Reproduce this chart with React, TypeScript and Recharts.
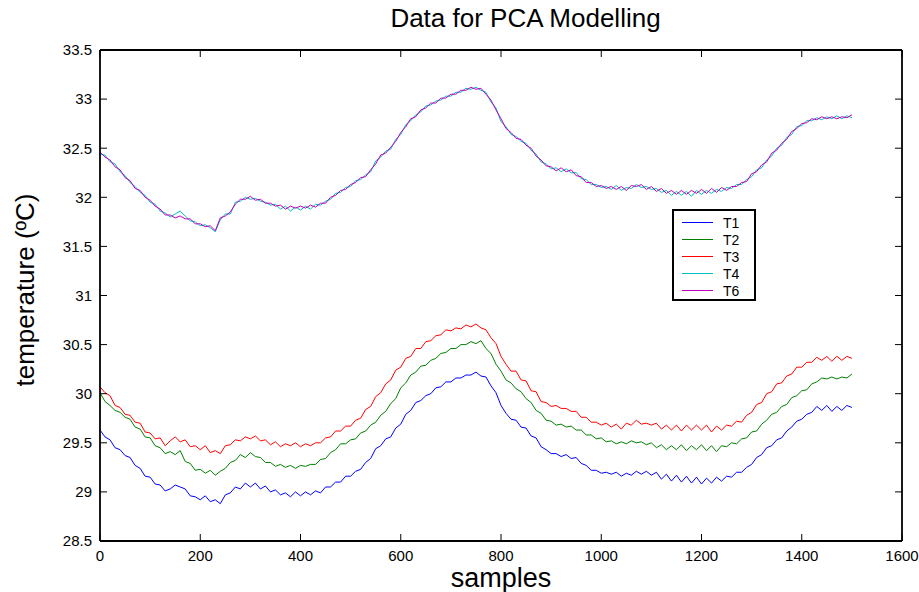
import React from 'react';
import { LineChart, Line, XAxis, YAxis } from 'recharts';

// sample index of every stored point (every 10th sample)
const SAMPLE_STEP = 10;
const SAMPLE_COUNT = 151;

const T1 = [
  29.63, 29.56, 29.53, 29.45, 29.43, 29.37, 29.35, 29.27, 29.24, 29.16,
  29.15, 29.08, 29.07, 29.01, 29.03, 29.07, 29.05, 29.03, 28.96, 28.95,
  28.92, 28.96, 28.90, 28.92, 28.88, 28.97, 28.99, 29.05, 29.03, 29.09,
  29.05, 29.09, 29.03, 29.06, 29.00, 29.02, 28.97, 28.99, 28.95, 29.00,
  28.96, 29.00, 28.97, 29.01, 28.99, 29.05, 29.05, 29.10, 29.10, 29.16,
  29.16, 29.21, 29.23, 29.30, 29.34, 29.44, 29.47, 29.54, 29.56, 29.65,
  29.69, 29.79, 29.83, 29.91, 29.93, 29.98, 30.00, 30.06, 30.07, 30.12,
  30.12, 30.16, 30.16, 30.19, 30.19, 30.22, 30.18, 30.17, 30.08, 30.01,
  29.88, 29.80, 29.74, 29.73, 29.66, 29.65, 29.57, 29.55, 29.46, 29.43,
  29.39, 29.39, 29.36, 29.38, 29.34, 29.35, 29.29, 29.27, 29.22, 29.22,
  29.19, 29.20, 29.18, 29.20, 29.16, 29.19, 29.17, 29.21, 29.18, 29.21,
  29.17, 29.20, 29.13, 29.18, 29.11, 29.17, 29.10, 29.16, 29.09, 29.15,
  29.08, 29.14, 29.09, 29.15, 29.11, 29.16, 29.15, 29.20, 29.20, 29.25,
  29.28, 29.35, 29.38, 29.45, 29.47, 29.53, 29.55, 29.62, 29.66, 29.72,
  29.74, 29.79, 29.81, 29.87, 29.83, 29.88, 29.82, 29.87, 29.83, 29.88,
  29.86,
];

const T2 = [
  30.01, 29.92, 29.88, 29.83, 29.81, 29.76, 29.74, 29.66, 29.64, 29.56,
  29.55, 29.47, 29.45, 29.39, 29.41, 29.38, 29.42, 29.31, 29.29, 29.22,
  29.23, 29.19, 29.22, 29.17, 29.21, 29.24, 29.30, 29.32, 29.38, 29.35,
  29.40, 29.36, 29.35, 29.30, 29.30, 29.26, 29.28, 29.25, 29.27, 29.24,
  29.27, 29.26, 29.28, 29.28, 29.33, 29.34, 29.40, 29.43, 29.49, 29.49,
  29.53, 29.54, 29.60, 29.62, 29.68, 29.71, 29.78, 29.82, 29.90, 29.95,
  30.06, 30.11, 30.19, 30.22, 30.28, 30.29, 30.34, 30.36, 30.41, 30.42,
  30.46, 30.46, 30.50, 30.50, 30.53, 30.51, 30.54, 30.46, 30.41, 30.30,
  30.23, 30.14, 30.11, 30.05, 30.02, 29.95, 29.91, 29.83, 29.80, 29.73,
  29.72, 29.68, 29.69, 29.66, 29.67, 29.63, 29.63, 29.58, 29.58, 29.54,
  29.55, 29.51, 29.52, 29.49, 29.51, 29.49, 29.52, 29.50, 29.51, 29.48,
  29.50, 29.45, 29.48, 29.43, 29.47, 29.43, 29.48, 29.42, 29.47, 29.43,
  29.48, 29.42, 29.47, 29.41, 29.47, 29.46, 29.50, 29.49, 29.54, 29.55,
  29.61, 29.62, 29.69, 29.73, 29.79, 29.81, 29.87, 29.89, 29.96, 29.98,
  30.03, 30.04, 30.10, 30.12, 30.16, 30.15, 30.17, 30.15, 30.17, 30.16,
  30.20,
];

const T3 = [
  30.07, 30.01, 29.98, 29.88, 29.86, 29.79, 29.78, 29.71, 29.70, 29.61,
  29.60, 29.54, 29.55, 29.47, 29.52, 29.56, 29.51, 29.53, 29.46, 29.47,
  29.43, 29.47, 29.40, 29.42, 29.39, 29.47, 29.48, 29.53, 29.52, 29.56,
  29.54, 29.57, 29.52, 29.53, 29.48, 29.51, 29.46, 29.49, 29.47, 29.50,
  29.46, 29.49, 29.47, 29.50, 29.50, 29.55, 29.56, 29.62, 29.62, 29.67,
  29.67, 29.73, 29.75, 29.84, 29.87, 29.97, 30.01, 30.10, 30.14, 30.24,
  30.27, 30.36, 30.38, 30.46, 30.46, 30.53, 30.54, 30.59, 30.60, 30.65,
  30.64, 30.67, 30.66, 30.70, 30.68, 30.71, 30.67, 30.65, 30.57, 30.51,
  30.38, 30.30, 30.23, 30.23, 30.14, 30.13, 30.03, 30.02, 29.92, 29.91,
  29.87, 29.88, 29.85, 29.85, 29.82, 29.82, 29.76, 29.76, 29.71, 29.71,
  29.68, 29.70, 29.66, 29.69, 29.64, 29.70, 29.68, 29.73, 29.69, 29.70,
  29.68, 29.70, 29.64, 29.68, 29.63, 29.68, 29.62, 29.68, 29.63, 29.68,
  29.63, 29.68, 29.61, 29.67, 29.63, 29.68, 29.67, 29.72, 29.71, 29.78,
  29.81, 29.89, 29.91, 30.00, 30.02, 30.10, 30.11, 30.18, 30.20, 30.27,
  30.27, 30.32, 30.32, 30.37, 30.34, 30.38, 30.33, 30.38, 30.34, 30.38,
  30.36,
];

const T4 = [
  32.44, 32.43, 32.36, 32.34, 32.26, 32.22, 32.15, 32.11, 32.05, 32.02,
  31.95, 31.93, 31.86, 31.84, 31.80, 31.83, 31.86, 31.81, 31.76, 31.75,
  31.71, 31.72, 31.69, 31.65, 31.77, 31.83, 31.83, 31.95, 31.96, 32.00,
  31.98, 31.99, 31.96, 31.95, 31.92, 31.93, 31.88, 31.91, 31.86, 31.90,
  31.87, 31.91, 31.88, 31.93, 31.92, 31.96, 31.98, 32.04, 32.05, 32.10,
  32.11, 32.17, 32.18, 32.23, 32.26, 32.37, 32.41, 32.47, 32.49, 32.59,
  32.64, 32.74, 32.78, 32.84, 32.87, 32.93, 32.94, 32.98, 32.99, 33.03,
  33.03, 33.07, 33.07, 33.11, 33.10, 33.12, 33.09, 33.07, 32.97, 32.91,
  32.77, 32.72, 32.64, 32.62, 32.57, 32.55, 32.48, 32.44, 32.36, 32.34,
  32.29, 32.30, 32.26, 32.29, 32.25, 32.25, 32.19, 32.18, 32.13, 32.13,
  32.10, 32.11, 32.08, 32.12, 32.07, 32.10, 32.09, 32.13, 32.10, 32.11,
  32.08, 32.09, 32.05, 32.07, 32.02, 32.06, 32.02, 32.06, 32.01, 32.07,
  32.03, 32.07, 32.04, 32.08, 32.06, 32.10, 32.09, 32.13, 32.13, 32.18,
  32.21, 32.28, 32.30, 32.38, 32.42, 32.50, 32.53, 32.61, 32.64, 32.72,
  32.73, 32.78, 32.78, 32.81, 32.79, 32.82, 32.80, 32.83, 32.80, 32.83,
  32.81,
];

const T6 = [
  32.46, 32.41, 32.38, 32.31, 32.28, 32.20, 32.17, 32.09, 32.07, 32.00,
  31.97, 31.91, 31.88, 31.82, 31.82, 31.79, 31.81, 31.78, 31.78, 31.73,
  31.73, 31.70, 31.71, 31.66, 31.79, 31.81, 31.85, 31.93, 31.98, 31.98,
  32.01, 31.97, 31.98, 31.94, 31.94, 31.91, 31.92, 31.88, 31.91, 31.89,
  31.91, 31.89, 31.92, 31.90, 31.94, 31.94, 32.00, 32.02, 32.07, 32.08,
  32.13, 32.15, 32.20, 32.21, 32.28, 32.34, 32.43, 32.45, 32.51, 32.57,
  32.66, 32.72, 32.80, 32.82, 32.89, 32.91, 32.96, 32.96, 33.01, 33.01,
  33.05, 33.05, 33.09, 33.09, 33.12, 33.10, 33.11, 33.05, 32.99, 32.89,
  32.80, 32.70, 32.66, 32.60, 32.59, 32.53, 32.50, 32.42, 32.38, 32.32,
  32.31, 32.27, 32.30, 32.26, 32.28, 32.22, 32.21, 32.15, 32.15, 32.11,
  32.12, 32.09, 32.11, 32.08, 32.11, 32.07, 32.12, 32.11, 32.13, 32.08,
  32.11, 32.06, 32.09, 32.04, 32.07, 32.03, 32.07, 32.03, 32.07, 32.04,
  32.08, 32.04, 32.09, 32.05, 32.10, 32.07, 32.11, 32.11, 32.15, 32.16,
  32.24, 32.26, 32.33, 32.36, 32.45, 32.48, 32.55, 32.59, 32.67, 32.70,
  32.75, 32.76, 32.80, 32.79, 32.82, 32.80, 32.82, 32.80, 32.82, 32.81,
  32.84,
];

const X_TICKS = [0, 200, 400, 600, 800, 1000, 1200, 1400, 1600];
const Y_TICKS = [28.5, 29, 29.5, 30, 30.5, 31, 31.5, 32, 32.5, 33, 33.5];

const SERIES = [
  { key: 'T1', color: '#0000ff', values: T1 },
  { key: 'T2', color: '#008000', values: T2 },
  { key: 'T3', color: '#ff0000', values: T3 },
  { key: 'T4', color: '#00bfbf', values: T4 },
  { key: 'T6', color: '#bf00bf', values: T6 },
];

const rows = Array.from({ length: SAMPLE_COUNT }, (_, i) => {
  const r: Record<string, number> = { s: i * SAMPLE_STEP };
  SERIES.forEach((se) => {
    r[se.key] = se.values[i];
  });
  return r;
});

const FONT = '"Liberation Sans", Arial, Helvetica, sans-serif';

const noTick = () => <g />;

export default function App() {
  return (
    <div
      style={{
        position: 'absolute',
        left: 0,
        top: 0,
        width: 919,
        height: 592,
        background: '#fff',
        fontFamily: FONT,
      }}
    >
      <LineChart
        width={919}
        height={592}
        data={rows}
        margin={{ top: 40, right: 7, bottom: 11, left: 40 }}
      >
        <XAxis
          xAxisId="b"
          dataKey="s"
          type="number"
          domain={[0, 1600]}
          ticks={X_TICKS}
          allowDataOverflow
          height={40}
          tickSize={-7}
          tickMargin={16}
          axisLine={{ stroke: '#000', strokeWidth: 1.8 }}
          tickLine={{ stroke: '#000' }}
          tick={{ fill: '#000', fontSize: 15, fontFamily: FONT }}
        />
        <XAxis
          xAxisId="t"
          orientation="top"
          dataKey="s"
          type="number"
          domain={[0, 1600]}
          ticks={X_TICKS}
          allowDataOverflow
          height={10}
          tickSize={-7}
          axisLine={{ stroke: '#000', strokeWidth: 1.8 }}
          tickLine={{ stroke: '#000' }}
          tick={noTick}
        />
        <YAxis
          yAxisId="l"
          type="number"
          domain={[28.5, 33.5]}
          ticks={Y_TICKS}
          allowDataOverflow
          width={60}
          tickSize={-7}
          tickMargin={15}
          axisLine={{ stroke: '#000', strokeWidth: 1.8 }}
          tickLine={{ stroke: '#000' }}
          tick={{ fill: '#000', fontSize: 15, fontFamily: FONT }}
        />
        <YAxis
          yAxisId="r"
          orientation="right"
          type="number"
          domain={[28.5, 33.5]}
          ticks={Y_TICKS}
          allowDataOverflow
          width={10}
          tickSize={-7}
          axisLine={{ stroke: '#000', strokeWidth: 1.8 }}
          tickLine={{ stroke: '#000' }}
          tick={noTick}
        />
        {SERIES.map((se) => (
          <Line
            key={se.key}
            xAxisId="b"
            yAxisId="l"
            dataKey={se.key}
            name={se.key}
            stroke={se.color}
            strokeWidth={1}
            dot={false}
            activeDot={false}
            isAnimationActive={false}
            type="linear"
          />
        ))}
      </LineChart>
      <div
        style={{
          position: 'absolute',
          left: 672,
          top: 209,
          width: 80,
          height: 85,
          border: '2px solid #000',
          background: '#fff',
          fontSize: 14,
          paddingTop: 3,
        }}
      >
        {SERIES.map((se) => (
          <div key={se.key} style={{ height: 17, display: 'flex', alignItems: 'center' }}>
            <div style={{ marginLeft: 8, width: 31, height: 0, borderTop: `1px solid ${se.color}` }} />
            <span style={{ marginLeft: 10, color: '#000' }}>{se.key}</span>
          </div>
        ))}
      </div>
      <div
        style={{
          position: 'absolute',
          left: 0,
          width: 1051,
          top: 4,
          textAlign: 'center',
          fontSize: 26,
          color: '#000',
          lineHeight: '28px',
        }}
      >
        Data for PCA Modelling
      </div>
      <div
        style={{
          position: 'absolute',
          left: 0,
          width: 1002,
          top: 566,
          textAlign: 'center',
          fontSize: 27,
          color: '#000',
          lineHeight: '24px',
        }}
      >
        samples
      </div>
      <div
        style={{
          position: 'absolute',
          left: 25,
          top: 290,
          transform: 'translate(-50%, -50%) rotate(-90deg)',
          whiteSpace: 'nowrap',
          fontSize: 26,
          color: '#000',
          lineHeight: '28px',
        }}
      >
        temperature (ºC)
      </div>
    </div>
  );
}
